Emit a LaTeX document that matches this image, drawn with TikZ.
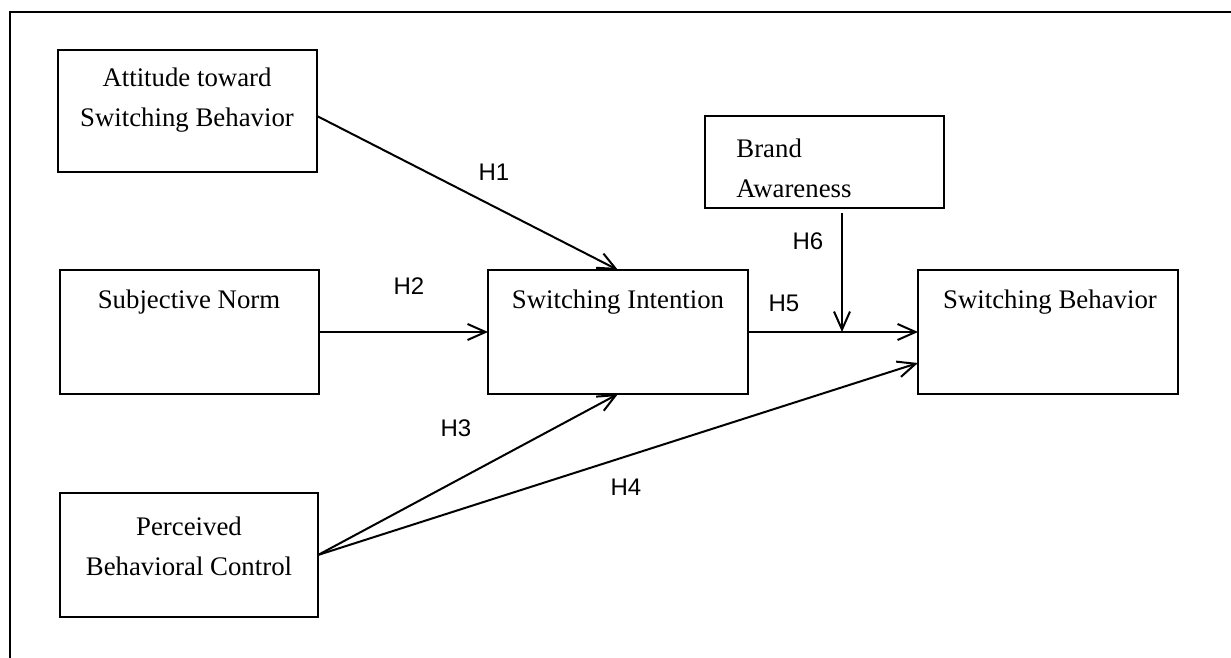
\documentclass[tikz,border=0pt]{standalone}
\usepackage{fontspec}
\setmainfont{Liberation Serif}
\newfontfamily\hfont{Liberation Sans}
\usepackage{tikz}
\usetikzlibrary{calc, positioning, arrows.meta}
\tikzstyle{box}=[draw, line width=1pt, inner sep=0pt, outer sep=0pt, shape=rectangle]
\tikzstyle{txt}=[inner sep=0pt, align=center, font=\fontsize{13.4}{20}\selectfont]
\tikzstyle{hyp}=[inner sep=0pt, font=\hfont\fontsize{12}{13}\selectfont]
\tikzset{>={Straight Barb[length=9pt,width=8pt,line width=1pt]}}

\begin{document}
\begin{tikzpicture}[x=0.5pt, y=-0.5pt]
\useasboundingbox (0,0) rectangle (1231,658);
\draw[line width=1pt] (10,658) -- (10,12) -- (1231,12);
\node[box, minimum width=129.5pt, minimum height=61pt] (att) at (187.5,111) {};
\node[box, minimum width=129.5pt, minimum height=62pt] (sn) at (189.5,332) {};
\node[box, minimum width=129pt, minimum height=62pt] (pbc) at (189,555) {};
\node[box, minimum width=130pt, minimum height=62pt] (si) at (618,332) {};
\node[box, minimum width=119.5pt, minimum height=46pt] (ba) at (824.5,162) {};
\node[box, minimum width=130pt, minimum height=62pt] (sb) at (1048,332) {};
\node[txt] (att-t) at (187,100) {Attitude toward\\Switching Behavior};
\node[txt] (sn-t) at (189,302) {Subjective Norm};
\node[txt] (pbc-t) at (189,546) {Perceived\\Behavioral Control};
\node[txt] (si-t) at (618,302) {Switching Intention};
\node[txt, align=left, anchor=west] (ba-t) at (736,168) {Brand\\Awareness};
\node[txt] (sb-t) at (1050,302) {Switching Behavior};
\coordinate (mod) at (842,332);
\draw[->, line width=1pt] ([yshift=-2.5pt]att.east) -- (si.north);
\draw[->, line width=1pt] (sn.east) -- (si.west);
\draw[->, line width=1pt] (pbc.east) -- (si.south);
\draw[->, line width=1pt] (pbc.east) -- ([yshift=-15.5pt]sb.west);
\draw[->, line width=1pt] (si.east) -- (sb.west);
\draw[->, line width=1pt] ([yshift=-2.5pt]ba.south -| mod) -- (mod);
\node[hyp] (h1) at (494,172) {H1};
\node[hyp] (h2) at (409,286) {H2};
\node[hyp] (h3) at (456,428) {H3};
\node[hyp] (h4) at (626,487) {H4};
\node[hyp] (h5) at (784,303) {H5};
\node[hyp] (h6) at (808,241) {H6};
\end{tikzpicture}
\end{document}
